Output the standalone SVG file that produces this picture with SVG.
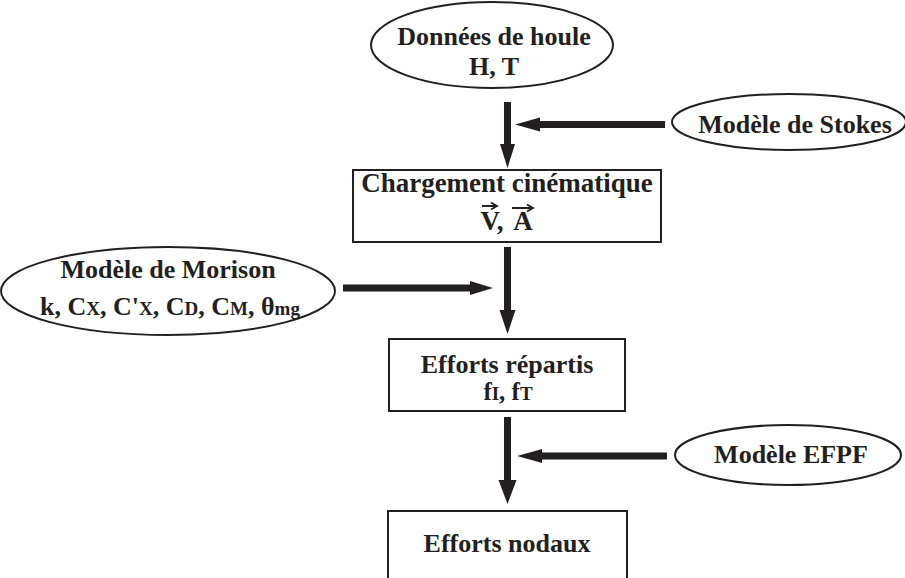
<svg xmlns="http://www.w3.org/2000/svg" width="905" height="578" viewBox="0 0 905 578">
<style>
.sh{fill:#fff;stroke:#231f20;stroke-width:2}
.t{font-family:"Liberation Serif","Times New Roman",serif;font-weight:bold;font-size:26px;fill:#231f20;text-anchor:middle}
.s{font-size:19px}
.ar{stroke:#231f20;stroke-width:7;fill:none}
.hd{fill:#231f20}
.vec{stroke:#231f20;stroke-width:1.8;fill:none}
</style>
<rect width="905" height="578" fill="#fff"/>
<g id="houle">
<ellipse class="sh" cx="492" cy="45" rx="121" ry="43"/>
<text class="t" x="494" y="45">Données de houle</text>
<text class="t" x="494" y="75">H, T</text>
</g>
<g id="stokes">
<ellipse class="sh" cx="789" cy="122" rx="117" ry="28"/>
<text class="t" x="795" y="133">Modèle de Stokes</text>
</g>
<g id="chargement">
<rect class="sh" x="353" y="170" width="308" height="72"/>
<text class="t" x="507" y="192" style="font-size:27px">Chargement cinématique</text>
<text class="t" x="492" y="230" style="font-size:27px">V,</text>
<text class="t" x="523" y="230" style="font-size:27px">A</text>
<path class="vec" d="M482 206 L497 206 M491 202.5 L497 206 L491 209.5 M512 208 L533 208 M527 204.5 L533 208 L527 211.5"/>
</g>
<g id="morison">
<ellipse class="sh" cx="168" cy="291" rx="167" ry="44"/>
<text class="t" x="168" y="278">Modèle de Morison</text>
<text class="t" x="170" y="315">k, C<tspan class="s">X</tspan>, C'<tspan class="s">X</tspan>, C<tspan class="s">D</tspan>, C<tspan class="s">M</tspan>, θ<tspan class="s">mg</tspan></text>
</g>
<g id="repartis">
<rect class="sh" x="389" y="339" width="236" height="72"/>
<text class="t" x="507" y="373">Efforts répartis</text>
<text class="t" x="508" y="400" style="font-size:25px">f<tspan class="s">I</tspan>, f<tspan class="s">T</tspan></text>
</g>
<g id="efpf">
<ellipse class="sh" cx="788" cy="455" rx="113" ry="30"/>
<text class="t" x="791" y="463">Modèle EFPF</text>
</g>
<g id="nodaux">
<rect class="sh" x="388" y="511" width="239" height="80"/>
<text class="t" x="507" y="552">Efforts nodaux</text>
</g>
<g id="connectors">
<line class="ar" x1="507.5" y1="102" x2="507.5" y2="146"/>
<polygon class="hd" points="500,144 515,144 507.5,168"/>
<line class="ar" x1="665" y1="124.5" x2="538" y2="124.5"/>
<polygon class="hd" points="540,117.5 540,131.5 515,124.5"/>
<line class="ar" x1="507.5" y1="247" x2="507.5" y2="312"/>
<polygon class="hd" points="499.5,310 515.5,310 507.5,334"/>
<line class="ar" x1="343" y1="288" x2="472" y2="288"/>
<polygon class="hd" points="470,281 470,295 493,288"/>
<line class="ar" x1="507.5" y1="417" x2="507.5" y2="482"/>
<polygon class="hd" points="498.5,480 516.5,480 507.5,504"/>
<line class="ar" x1="667" y1="456" x2="540" y2="456"/>
<polygon class="hd" points="542,449 542,463 517,456"/>
</g>
</svg>
